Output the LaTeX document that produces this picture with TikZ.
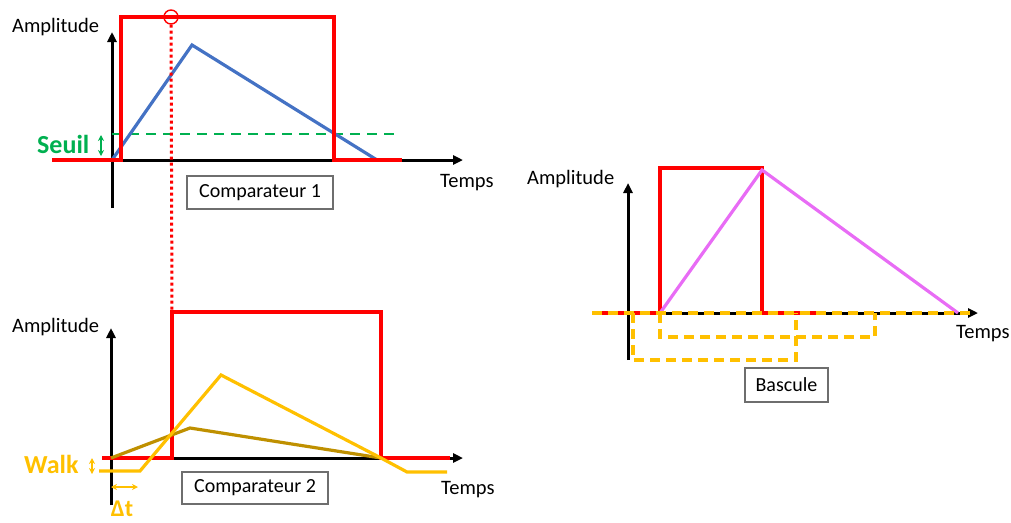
\documentclass[tikz,border=0pt]{standalone}
\usepackage{fontspec}
\setmainfont{Carlito}
\usetikzlibrary{arrows.meta}
\definecolor{cred}{RGB}{255,0,0}
\definecolor{cblue}{RGB}{68,114,196}
\definecolor{cgreen}{RGB}{0,176,80}
\definecolor{camber}{RGB}{255,192,0}
\definecolor{cgold}{RGB}{191,144,0}
\definecolor{cviolet}{RGB}{232,108,245}
\definecolor{cgray}{RGB}{110,110,110}
\tikzset{
  axis/.style={line width=3pt,black,-{Triangle[length=10pt,width=9pt]}},
  sig/.style={line width=3.6pt,line join=miter},
  lab/.style={inner sep=0pt,anchor=base west,font=\fontsize{20.5}{21}\selectfont},
  big/.style={inner sep=0pt,anchor=base west,font=\fontsize{26}{26}\selectfont\bfseries},
  blockbox/.style={draw=cgray,line width=1.4pt,inner sep=0pt,font=\fontsize{20}{21}\selectfont},
  dbl/.style={line width=1.8pt,{Stealth[length=6pt,width=6pt]}-{Stealth[length=6pt,width=6pt]}},
  ydash/.style={camber,line width=3.2pt,dash pattern=on 10pt off 6pt}
}
\begin{document}
\begin{tikzpicture}[x=1pt,y=-1pt]
\useasboundingbox (0,0) rectangle (1011,522);
\clip (0,0) rectangle (1011,522);
% ===== top panel =====
\coordinate (o1) at (112,160);
\draw[axis] (112,208) -- (112,32);
\draw[axis] (112,160) -- (463,160);
\draw[cgreen,line width=2.8pt,dash pattern=on 10pt off 7pt] (112,134) -- (398,134);
\draw[cblue,line width=3.2pt,line join=miter] (112,160) -- (192,45) -- (377,160);
\draw[cred,sig] (52,160) -- (121,160) -- (121,17) -- (334,17) -- (334,160) -- (402,160);
\node[draw=cred,line width=1.4pt,circle,minimum size=14pt,inner sep=0pt] (c1) at (171,17) {};
\draw[cgreen,dbl] (101,135) -- (101,156);
\node[big,text=cgreen] (seuil) at (37,153) {Seuil};
\node[lab] (amp1) at (12,32) {Amplitude};
\node[lab] (t1) at (440,187) {Temps};
\node[blockbox,minimum width=146pt,minimum height=33pt] (cmp1) at (260,192.5) {Comparateur 1};
% ===== bottom panel =====
\draw[axis] (111,505) -- (111,328);
\draw[axis] (111,458) -- (463,458);
\draw[cred,sig] (102,458) -- (172,458) -- (172,312) -- (381,312) -- (381,458) -- (450,458);
\coordinate (p2) at (172,312);
\draw[cred,line width=3pt,dash pattern=on 3pt off 3pt] (c1.south) -- (p2);
\draw[cgold,line width=3.2pt,line join=miter] (111,458) -- (190,428) -- (381,458);
\draw[camber,line width=3.2pt,line join=miter] (99,471) -- (140,471) -- (221,375) -- (381,458) -- (407,472) -- (447,472);
\draw[camber,dbl] (92,458) -- (92,474);
\draw[camber,dbl] (111,487) -- (138,487);
\node[big,text=camber] (walk) at (24,473) {Walk};
\node[big,text=camber,anchor=base,font=\fontsize{24}{24}\selectfont\bfseries] (dt) at (122,516) {Δt};
\node[lab] (amp2) at (12,332) {Amplitude};
\node[lab] (t2) at (441,494) {Temps};
\node[blockbox,minimum width=146pt,minimum height=32pt] (cmp2) at (255,488) {Comparateur 2};
% ===== right panel =====
\draw[axis] (628,360) -- (628,183);
\draw[axis] (628,313) -- (978,313);
\draw[cred,sig] (592,313) -- (660,313) -- (660,168) -- (762,168) -- (762,313) -- (825,313);
\draw[cviolet,line width=3.2pt,line join=miter] (660,313) -- (762,170) -- (958,313);
\draw[ydash] (592,313) -- (975,313);
\draw[ydash] (633,313) -- (633,360) -- (796,360) -- (796,313);
\draw[ydash] (660,313) -- (660,337) -- (875,337) -- (875,313);
\node[lab] (amp3) at (527,184) {Amplitude};
\node[lab] (t3) at (956,338) {Temps};
\node[blockbox,minimum width=83pt,minimum height=34pt] (bas) at (786.5,385) {Bascule};
\end{tikzpicture}
\end{document}
